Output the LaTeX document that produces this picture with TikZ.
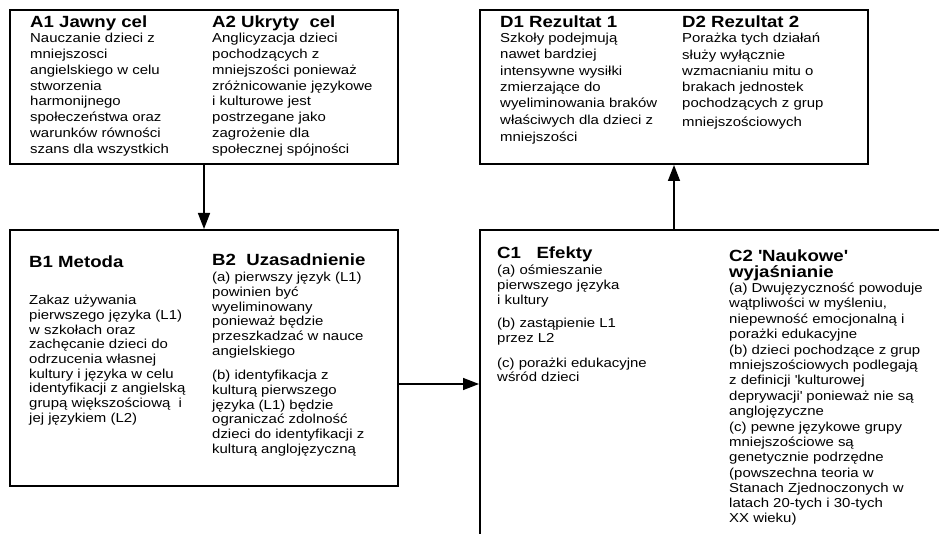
\documentclass[tikz,border=0pt]{standalone}
\usepackage{fontspec}
\setmainfont{Liberation Sans}[FakeStretch=1.15]
\usetikzlibrary{arrows.meta}
\begin{document}
\begin{tikzpicture}[x=1pt,y=-1pt,
  box/.style={draw, line width=2pt, rectangle, inner sep=0pt},
  ttl/.style={anchor=north west, inner sep=0pt, align=left, font=\fontsize{16.2}{15.5}\selectfont\bfseries},
  txt/.style={anchor=north west, inner sep=0pt, align=left, font=\fontsize{13}{14.7}\selectfont},
  txtA/.style={txt, font=\fontsize{13}{15.8}\selectfont},
  txtD/.style={txt, font=\fontsize{13}{16.3}\selectfont},
  txtC/.style={txt, font=\fontsize{13}{15.2}\selectfont},
  conn/.style={line width=1.5pt, -{Triangle[length=16pt,width=12pt]}}]
\useasboundingbox (0,0) rectangle (939,534);
\clip (0,0) rectangle (939,534);
\node[box, minimum width=388pt, minimum height=154pt] (A) at (204,87) {};
\node[box, minimum width=388pt, minimum height=154pt] (D) at (674,87) {};
\node[box, minimum width=388pt, minimum height=256pt] (B) at (204,358) {};
\node[box, minimum width=520pt, minimum height=400pt] (C) at (740,430) {};
% A
\node[ttl] (a1t) at (30,16) {A1 Jawny cel};
\node[txtA] (a1b) at (30,33) {Nauczanie dzieci z\\mniejszosci\\angielskiego w celu\\stworzenia\\harmonijnego\\społeczeństwa oraz\\warunków równości\\szans dla wszystkich};
\node[ttl] (a2t) at (212,16) {A2 Ukryty\ \ cel};
\node[txtA] (a2b) at (212,33) {Anglicyzacja dzieci\\pochodzących z\\mniejszości ponieważ\\zróżnicowanie językowe\\i kulturowe jest\\postrzegane jako\\zagrożenie dla\\społecznej spójności};
% D
\node[ttl] (d1t) at (500,16) {D1 Rezultat 1};
\node[txtD] (d1b) at (500,33) {Szkoły podejmują\\nawet bardziej\\intensywne wysiłki\\zmierzające do\\wyeliminowania braków\\właściwych dla dzieci z\\[1pt]mniejszości};
\node[ttl] (d2t) at (682,16) {D2 Rezultat 2};
\node[txtD] (d2b) at (682,33) {Porażka tych działań\\służy wyłącznie\\wzmacnianiu mitu o\\brakach jednostek\\pochodzących z grup\\[2pt]mniejszościowych};
% B
\node[ttl] (b1t) at (29,256) {B1 Metoda};
\node[txt] (b1b) at (29,295) {Zakaz używania\\pierwszego języka (L1)\\w szkołach oraz\\zachęcanie dzieci do\\odrzucenia własnej\\kultury i języka w celu\\identyfikacji z angielską\\grupą większościową\ \ i\\jej językiem (L2)};
\node[ttl] (b2t) at (212,254) {B2\ \ Uzasadnienie};
\node[txt] (b2b) at (212,272) {(a) pierwszy język (L1)\\powinien być\\wyeliminowany\\ponieważ będzie\\przeszkadzać w nauce\\angielskiego\\[10pt](b) identyfikacja z\\kulturą pierwszego\\języka (L1) będzie\\ograniczać zdolność\\dzieci do identyfikacji z\\kulturą anglojęzyczną};
% C
\node[ttl] (c1t) at (497,247) {C1\ \ \ Efekty};
\node[txt] (c1b) at (497,265) {(a) ośmieszanie\\pierwszego języka\\i kultury\\[9pt](b) zastąpienie L1\\przez L2\\[10pt](c) porażki edukacyjne\\wśród dzieci};
\node[ttl] (c2t) at (729,250) {C2 \textquotesingle Naukowe\textquotesingle\\wyjaśnianie};
\node[txtC] (c2b) at (729,283) {(a) Dwujęzyczność powoduje\\wątpliwości w myśleniu,\\niepewność emocjonalną i\\porażki edukacyjne\\[1pt](b) dzieci pochodzące z grup\\mniejszościowych podlegają\\z definicji \textquotesingle kulturowej\\deprywacji\textquotesingle{} ponieważ nie są\\anglojęzyczne\\[1pt](c) pewne językowe grupy\\mniejszościowe są\\genetycznie podrzędne\\(powszechna teoria w\\Stanach Zjednoczonych w\\latach 20-tych i 30-tych\\XX wieku)};
% connectors
\draw[conn] (A.south) -- (B.north);
\draw[conn] (B.east |- 0,384) -- (C.west |- 0,384);
\draw[conn] (D.south |- C.north) -- (D.south);
\end{tikzpicture}
\end{document}
